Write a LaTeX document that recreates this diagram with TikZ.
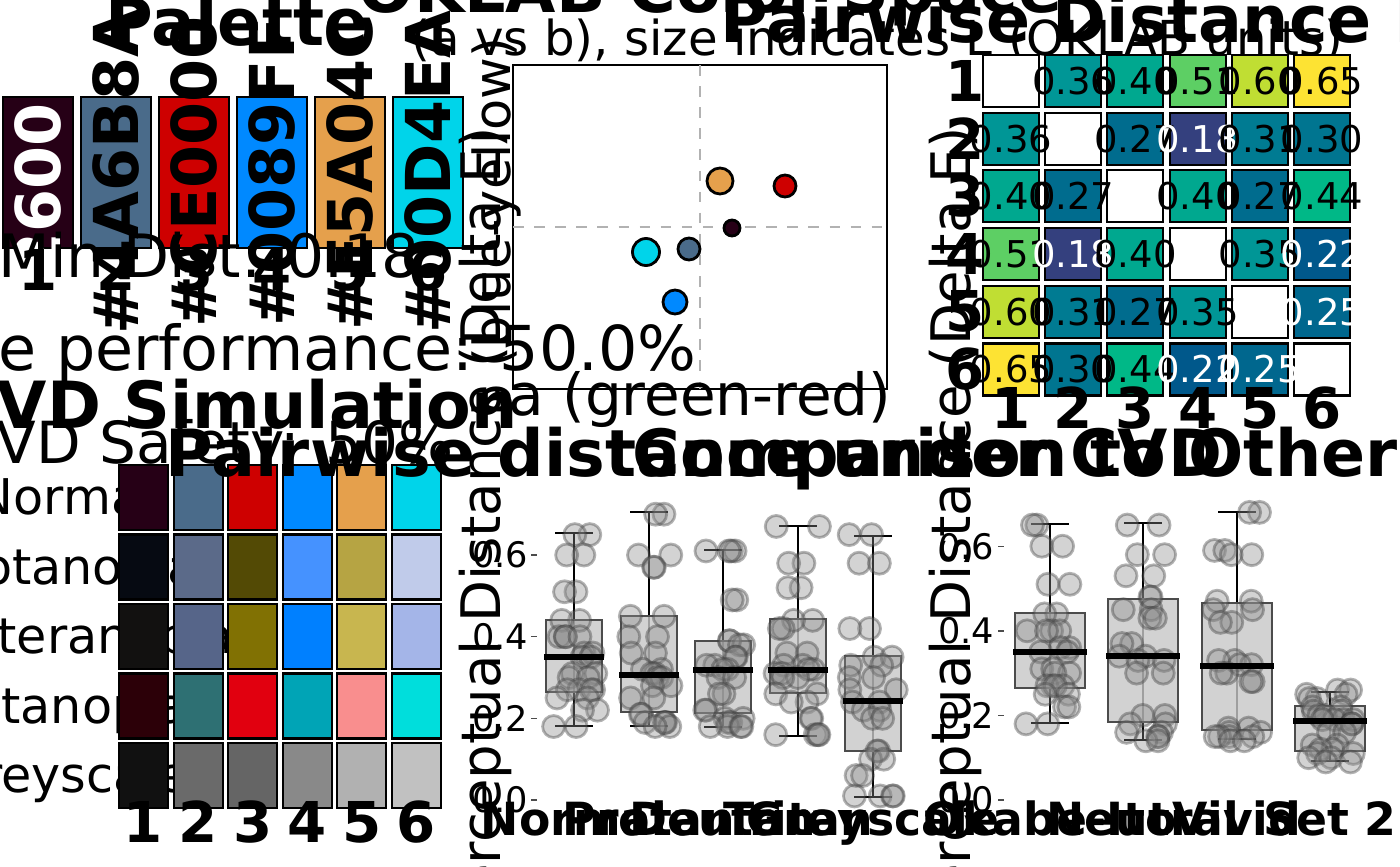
\documentclass[tikz,border=0pt]{standalone}
\usepackage{fontspec}
\setmainfont{DejaVu Sans}
\definecolor{palA}{HTML}{260016}
\definecolor{palB}{HTML}{4A6B8A}
\definecolor{palC}{HTML}{CE0000}
\definecolor{palD}{HTML}{0089FF}
\definecolor{palE}{HTML}{E5A04C}
\definecolor{palF}{HTML}{00D4EA}
\definecolor{hmA}{HTML}{34407E}
\definecolor{hmB}{HTML}{00588B}
\definecolor{hmC}{HTML}{00678E}
\definecolor{hmD}{HTML}{006C8E}
\definecolor{hmE}{HTML}{007590}
\definecolor{hmF}{HTML}{007B92}
\definecolor{hmG}{HTML}{009696}
\definecolor{hmH}{HTML}{00A88F}
\definecolor{hmI}{HTML}{00B887}
\definecolor{hmJ}{HTML}{5DCF64}
\definecolor{hmK}{HTML}{C0DE33}
\definecolor{hmL}{HTML}{FDE333}
\begin{document}
\begin{tikzpicture}[x=0.01cm,y=-0.01cm,
    ttl/.style={font=\fontsize{18.5}{22}\selectfont\bfseries, anchor=base west, inner sep=0pt},
    subttl/.style={font=\fontsize{13.7}{16}\selectfont, anchor=base west, inner sep=0pt},
    info/.style={font=\fontsize{17}{20}\selectfont, inner sep=0pt},
    axlbl/.style={font=\fontsize{16.5}{19}\selectfont, inner sep=0pt},
    hexlbl/.style={font=\fontsize{17.6}{20}\selectfont\bfseries, rotate=90, inner sep=0pt},
    idx/.style={font=\fontsize{16}{18}\selectfont\bfseries, inner sep=0pt},
    hmnum/.style={font=\fontsize{10.5}{12}\selectfont, inner sep=0pt},
    cvdlbl/.style={font=\fontsize{14}{16}\selectfont, anchor=base, inner sep=0pt},
    ticklbl/.style={font=\fontsize{10}{12}\selectfont, anchor=east, inner sep=0pt},
    grp/.style={font=\fontsize{13}{15}\selectfont\bfseries, anchor=base, inner sep=0pt},
    tile/.style={draw=black, line width=0.6pt},
    boxfill/.style={fill=black!22, fill opacity=0.8, draw=black!70, line width=0.8pt},
    jit/.style={fill=black!45, fill opacity=0.38, draw=black!75, draw opacity=0.4, line width=0.8pt}]
  \useasboundingbox (0,0) rectangle (1400,866);

  % palette
  \foreach \c/\h/\t [count=\i] in {palA/260016/white, palB/4A6B8A/black, palC/CE0000/black,
      palD/0089FF/black, palE/E5A04C/black, palF/00D4EA/black} {
    \draw[tile, fill=\c] ({3+78*(\i-1)},97) rectangle ++(70,151);
    \node[hexlbl, text=\t] (hex\i) at ({38+78*(\i-1)},172) {\#\h};
    \node[idx] (pidx\i) at ({38+78*(\i-1)},270) {\i};
  }
  \node[ttl] (paltitle) at (105,45) {Palette};
  \node[info, anchor=base west] (mindist) at (-2,277) {Min Dist: 0.18};
  \node[info, font=\fontsize{17.6}{20}\selectfont, anchor=base east] (perf) at (697,370) {e performance: 50.0\%};

  % oklab scatter
  \node[ttl] (oktitle) at (358,12) {OKLAB Color Space};
  \node[subttl] (oksub) at (411,55) {(a vs b), size indicates L (OKLAB units)};
  \draw[line width=0.6pt] (513,65) rectangle (887,389);
  \draw[dashed, black!30, line width=0.7pt] (700,65) -- (700,389) (513,227) -- (887,227);
  \foreach \px/\py/\r/\c in {720/181/13/palE, 785/186/11/palC, 732/228/8/palA,
      646/252/13.5/palF, 689/249/11/palB, 675/302/12/palD}
    \draw[fill=\c, line width=0.8pt] (\px,\py) circle[radius=\r*0.01cm];
  \node[axlbl, anchor=base] (okx) at (700,415) {a (green-red)};
  \node[axlbl, font=\fontsize{14.5}{17}\selectfont, rotate=90, anchor=base] (oky) at (510,227) {b (blue-yellow)};

  % distance matrix
  \node[ttl] (hmtitle) at (720,42) {Pairwise Distance M};
  \foreach \k in {1,...,6}
    \draw[tile, fill=white] ({983+62.2*(\k-1)},{55+57.7*(\k-1)}) rectangle ++(56,52);
  \foreach \a/\b/\c in {1/2/hmG, 1/3/hmH, 1/4/hmJ, 1/5/hmK, 1/6/hmL, 2/3/hmD, 2/4/hmA,
      2/5/hmF, 2/6/hmE, 3/4/hmH, 3/5/hmD, 3/6/hmI, 4/5/hmG, 4/6/hmB, 5/6/hmC} {
    \draw[tile, fill=\c] ({983+62.2*(\b-1)},{55+57.7*(\a-1)}) rectangle ++(56,52);
    \draw[tile, fill=\c] ({983+62.2*(\a-1)},{55+57.7*(\b-1)}) rectangle ++(56,52);
  }
  \foreach \a/\b/\v/\t in {1/2/0.36/black, 1/3/0.40/black, 1/4/0.51/black, 1/5/0.60/black,
      1/6/0.65/black, 2/3/0.27/black, 2/4/0.18/white, 2/5/0.31/black, 2/6/0.30/black,
      3/4/0.40/black, 3/5/0.27/black, 3/6/0.44/black, 4/5/0.35/black, 4/6/0.22/white,
      5/6/0.25/white} {
    \node[hmnum, text=\t] (d\a\b) at ({1011+62.2*(\b-1)},{81+57.7*(\a-1)}) {\v};
    \node[hmnum, text=\t] (d\b\a) at ({1011+62.2*(\a-1)},{81+57.7*(\b-1)}) {\v};
  }
  \foreach \k in {1,...,6} {
    \node[idx, anchor=east] (hr\k) at (985,{81+57.7*(\k-1)}) {\k};
    \node[idx] (hc\k) at ({1011+62.2*(\k-1)},408) {\k};
  }

  % cvd simulation
  \node[ttl] (cvdtitle) at (-4,428) {VD Simulation};
  \node[info, font=\fontsize{16.5}{19}\selectfont, anchor=base west] (cvdsafe) at (-4,463) {VD Safety: 50\%};
  \foreach \n [count=\r] in {Normal,Protanopia,Deuteranopia,Tritanopia,Greyscale}
    \node[cvdlbl] (cvd\r) at (66,{514.5+69.5*(\r-1)}) {\n};
  \foreach \row [count=\r] in {{260016,4A6B8A,CE0000,0089FF,E5A04C,00D4EA},
      {060A12,5B6A89,534A05,4592FF,B6A443,C0CBEA},
      {121110,566589,817103,0080FF,C8B64F,A4B5E8},
      {2C0008,2E7073,E1000F,00A4B6,F98E8E,00DEDC},
      {111111,6A6A6A,656565,898989,B1B1B1,C1C1C1}} {
    \foreach \h [count=\c] in \row {
      \definecolor{simc}{HTML}{\h}
      \draw[tile, fill=simc] ({119+54.6*(\c-1)},{465+69.5*(\r-1)}) rectangle ++(49,65);
    }
  }
  \foreach \k in {1,...,6}
    \node[idx] (cc\k) at ({143.5+54.6*(\k-1)},822) {\k};

  % boxplots
  \node[ttl] (mdtitle) at (165,476) {Pairwise distance under CVD};
  \node[ttl] (cmtitle) at (632,476) {Comparison to Other};
  \foreach \v in {0,2,4,6} {
    \node[ticklbl] (mt\v) at (529,{800-40.83*\v}) {0.\v};
    \draw[black!70] (531,{800-40.83*\v}) -- (537,{800-40.83*\v});
    \node[ticklbl] (rt\v) at (995,{800-42.3*\v}) {0.\v};
    \draw[black!70] (998,{800-42.3*\v}) -- (1004,{800-42.3*\v});
  }
  \pgfmathsetseed{11}
  \foreach \cx/\wt/\qa/\md/\qb/\wb/\hw/\sc/\vals in {
      574/533/620/657/692/726/28/408.3/{0.65,0.60,0.51,0.44,0.40,0.40,0.36,0.35,0.31,0.30,0.27,0.27,0.25,0.22,0.18},
      649/512/616/675/712/726/28/408.3/{0.70,0.60,0.57,0.45,0.40,0.36,0.32,0.31,0.30,0.28,0.25,0.21,0.19,0.19,0.18},
      723/550/641/670/713/727/28/408.3/{0.61,0.61,0.49,0.39,0.38,0.35,0.33,0.32,0.30,0.26,0.22,0.20,0.19,0.18,0.18},
      798/526/619/670/693/736/28/408.3/{0.67,0.58,0.52,0.44,0.42,0.36,0.33,0.32,0.31,0.30,0.26,0.24,0.20,0.16,0.16},
      873/536/656/701/751/797/28/408.3/{0.65,0.58,0.42,0.35,0.33,0.30,0.27,0.24,0.22,0.20,0.12,0.10,0.06,0.01,0.01},
      1050/524/613/652/688/723/35/423/{0.65,0.60,0.51,0.44,0.40,0.40,0.36,0.35,0.31,0.30,0.27,0.27,0.25,0.22,0.18},
      1143/523/599/656/722/740/35/423/{0.65,0.58,0.53,0.48,0.45,0.43,0.37,0.34,0.33,0.30,0.20,0.18,0.16,0.15,0.14},
      1237/512/603/666/730/739/35/423/{0.68,0.59,0.58,0.47,0.45,0.42,0.33,0.32,0.30,0.28,0.17,0.16,0.15,0.15,0.14},
      1330/692/706/721/751/761/35/423/{0.26,0.25,0.24,0.22,0.21,0.20,0.19,0.19,0.18,0.16,0.13,0.12,0.11,0.10,0.09}} {
    \draw[line width=0.8pt] (\cx,\wt) -- (\cx,\wb) ({\cx-19},\wt) -- ({\cx+19},\wt) ({\cx-19},\wb) -- ({\cx+19},\wb);
    \draw[boxfill] ({\cx-\hw},\qa) rectangle ({\cx+\hw},\qb);
    \foreach \v in \vals {
      \foreach \k in {1,2} {
        \pgfmathsetmacro\dx{24*rand}
        \draw[jit] ({\cx+\dx},{800-\sc*\v}) circle[radius=0.11cm];
      }
    }
    \draw[line width=1.5pt] ({\cx-\hw-2},\md) -- ({\cx+\hw+2},\md);
  }
  \foreach \cx/\n [count=\g] in {574/Normal, 649/Protan, 723/Deutan, 798/Tritan, 873/Greyscale,
      1050/Okabe-Ito, 1143/Neutral, 1237/Vivid, 1330/Set 2}
    \node[grp] (grp\g) at (\cx,835) {\n};
  \node[axlbl, font=\fontsize{15.5}{18}\selectfont, rotate=90, anchor=base] (mdy) at (500,528) {Perceptual Distance (Delta E)};
  \node[axlbl, font=\fontsize{15.5}{18}\selectfont, rotate=90, anchor=base] (cmy) at (970,528) {Perceptual Distance (Delta E)};
\end{tikzpicture}
\end{document}
